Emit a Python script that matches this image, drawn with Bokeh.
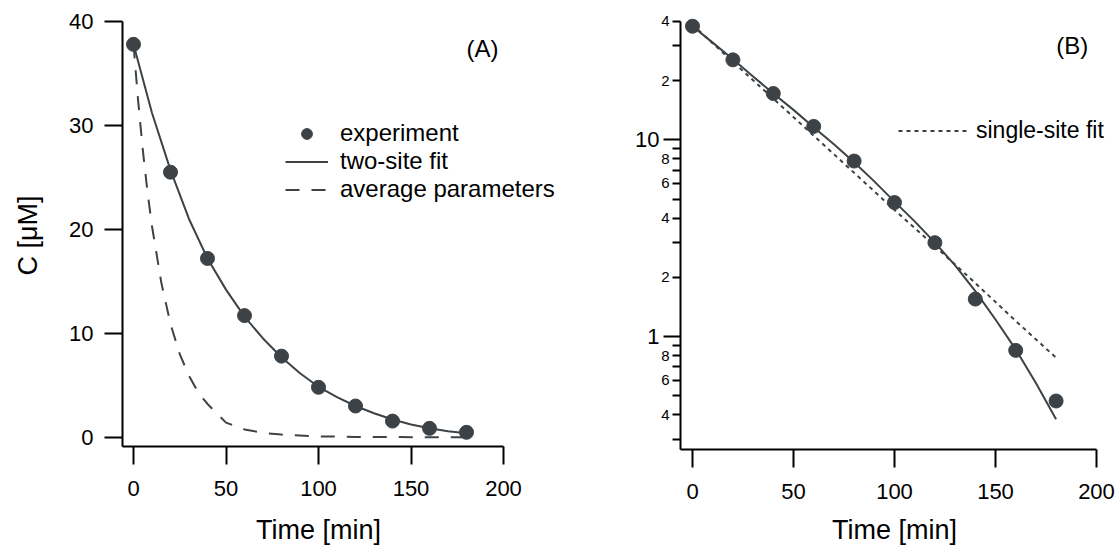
import numpy as np
from bokeh.plotting import figure
from bokeh.models import (Range1d, FixedTicker, Legend, LegendItem, Label,
                          PrintfTickFormatter)
from bokeh.layouts import row
from bokeh.embed import file_html
from bokeh.resources import INLINE

# ---------------- data ----------------
time_exp = [0, 20, 40, 60, 80, 100, 120, 140, 160, 180]
conc_exp = [37.8, 25.5, 17.2, 11.7, 7.8, 4.8, 3.0, 1.55, 0.85, 0.47]

time_two_site = [0, 10, 20, 30, 40, 50, 60, 70, 80, 90, 100, 110, 120, 130, 140, 150, 160, 170, 180]
conc_two_site = [37.8, 31.2, 25.7, 21.0, 17.2, 14.2, 11.6, 9.5, 7.7, 6.15, 4.85, 3.85,
                 3.0, 2.3, 1.7, 1.22, 0.86, 0.58, 0.38]

time_avg = [0, 2.5, 5, 7.5, 10, 15, 20, 25, 30, 35, 40, 50, 60, 70, 80, 100, 120, 140, 160, 180]
conc_avg = [37.8, 32.4, 27.7, 23.7, 20.3, 14.9, 10.9, 8.0, 5.9, 4.3, 3.2, 1.4, 0.75, 0.42,
            0.25, 0.08, 0.025, 0.01, 0.004, 0.002]

time_single = [0, 20, 40, 60, 80, 100, 120, 140, 160, 180]
conc_single = [38.5, 24.9, 16.2, 10.5, 6.8, 4.4, 2.88, 1.87, 1.2, 0.78]

x_ticks = [0, 50, 100, 150, 200]
yA_ticks = [0, 10, 20, 30, 40]
yB_major = [1, 10]
yB_minor = [0.3, 0.4, 0.5, 0.6, 0.7, 0.8, 0.9, 2, 3, 4, 5, 6, 7, 8, 9, 20, 30, 40]
yB_minor_labeled = [40, 20, 8, 6, 4, 2, 0.8, 0.6, 0.4]
yB_minor_text = ["4", "2", "8", "6", "4", "2", "8", "6", "4"]

FONT = "Liberation Sans"
DARK = "#3c4246"


def style(p):
    p.outline_line_color = None
    p.xgrid.visible = False
    p.ygrid.visible = False
    p.background_fill_color = "white"
    p.border_fill_color = "white"
    for ax in (p.xaxis[0], p.yaxis[0]):
        ax.axis_line_color = "black"
        ax.axis_line_width = 2
        ax.major_tick_line_color = "black"
        ax.major_tick_line_width = 2
        ax.minor_tick_line_color = "black"
        ax.minor_tick_line_width = 2
        ax.major_tick_in = 0
        ax.minor_tick_in = 0
        ax.major_tick_out = 18
        ax.minor_tick_out = 0
        ax.major_label_text_font = FONT
        ax.major_label_text_font_size = "22px"
        ax.major_label_text_color = "black"
    p.xaxis.ticker = FixedTicker(ticks=x_ticks, minor_ticks=[])
    p.xaxis.major_label_standoff = 17


def text(p, x, y, s, size, angle=0.0, align="center"):
    p.add_layout(Label(x=x, y=y, text=s, angle=angle, text_align=align,
                       text_baseline="middle", text_font=FONT, text_font_size=size,
                       text_color="black"))


# ---------------- panel A ----------------
# frame covers the whole canvas; axes are pinned at their data locations
p1 = figure(width=564, height=548, x_range=Range1d(-71.89, 232.97),
            y_range=Range1d(-10.71, 42.02),
            min_border_left=0, min_border_right=0, min_border_top=0, min_border_bottom=0,
            toolbar_location=None, output_backend="svg")
style(p1)
p1.xaxis.fixed_location = -0.895
p1.xaxis.bounds = (-5.95, 200)
p1.yaxis.fixed_location = -5.95
p1.yaxis.bounds = (-0.895, 40)
p1.yaxis.ticker = FixedTicker(ticks=yA_ticks, minor_ticks=[])
p1.yaxis.major_label_standoff = 11

rA_avg = p1.line(time_avg, conc_avg, line_color=DARK, line_width=2, line_dash="14 12")
rA_fit = p1.line(time_two_site, conc_two_site, line_color=DARK, line_width=2)
rA_exp = p1.scatter(time_exp, conc_exp, size=14, fill_color=DARK, line_color=DARK)

legA = Legend(items=[LegendItem(label="experiment", renderers=[rA_exp]),
                     LegendItem(label="two-site fit", renderers=[rA_fit]),
                     LegendItem(label="average parameters", renderers=[rA_avg])],
              location=(285, 345), glyph_width=43, glyph_height=27, label_height=27,
              label_standoff=12, spacing=0, padding=0, margin=0,
              border_line_alpha=0, background_fill_alpha=0,
              label_text_font=FONT, label_text_font_size="24px", label_text_color="black")
p1.add_layout(legA)
text(p1, 188.6, 37.4, "(A)", "24px")
text(p1, 100, -8.977, "Time [min]", "27px")
text(p1, -56.76, 19.41, "C [μM]", "27px", angle=np.pi / 2)

# ---------------- panel B ----------------
p2 = figure(width=553, height=548, x_range=Range1d(-63.37, 210.40),
            y_range=Range1d(0.08358, 51.1), y_axis_type="log",
            min_border_left=0, min_border_right=0, min_border_top=0, min_border_bottom=0,
            toolbar_location=None, output_backend="svg")
style(p2)
p2.xaxis.fixed_location = 0.2664
p2.xaxis.bounds = (-5.94, 200)
p2.yaxis.fixed_location = -5.94
p2.yaxis.bounds = (0.2664, 40)
p2.yaxis.ticker = FixedTicker(ticks=yB_major, minor_ticks=yB_minor)
p2.yaxis.formatter = PrintfTickFormatter(format="%d")
p2.yaxis.major_tick_out = 17
p2.yaxis.minor_tick_out = 8
p2.yaxis.major_label_standoff = 4

rB_single = p2.line(time_single, conc_single, line_color=DARK, line_width=2, line_dash="4 4")
rB_fit = p2.line(time_two_site, conc_two_site, line_color=DARK, line_width=2)
rB_exp = p2.scatter(time_exp, conc_exp, size=14, fill_color=DARK, line_color=DARK)

legB = Legend(items=[LegendItem(label="single-site fit", renderers=[rB_single])],
              location=(334, 404), glyph_width=70, glyph_height=27, label_height=27,
              label_standoff=8, spacing=0, padding=0, margin=0,
              border_line_alpha=0, background_fill_alpha=0,
              label_text_font=FONT, label_text_font_size="23px", label_text_color="black")
p2.add_layout(legB)
text(p2, 188, 30, "(B)", "24px")
text(p2, 100, 0.1032, "Time [min]", "27px")

for v, t in zip(yB_minor_labeled, yB_minor_text):
    text(p2, -11.39, v, t, "15px", align="right")

layout = row(p1, p2)
open("out.html", "w").write(file_html(layout, INLINE))
